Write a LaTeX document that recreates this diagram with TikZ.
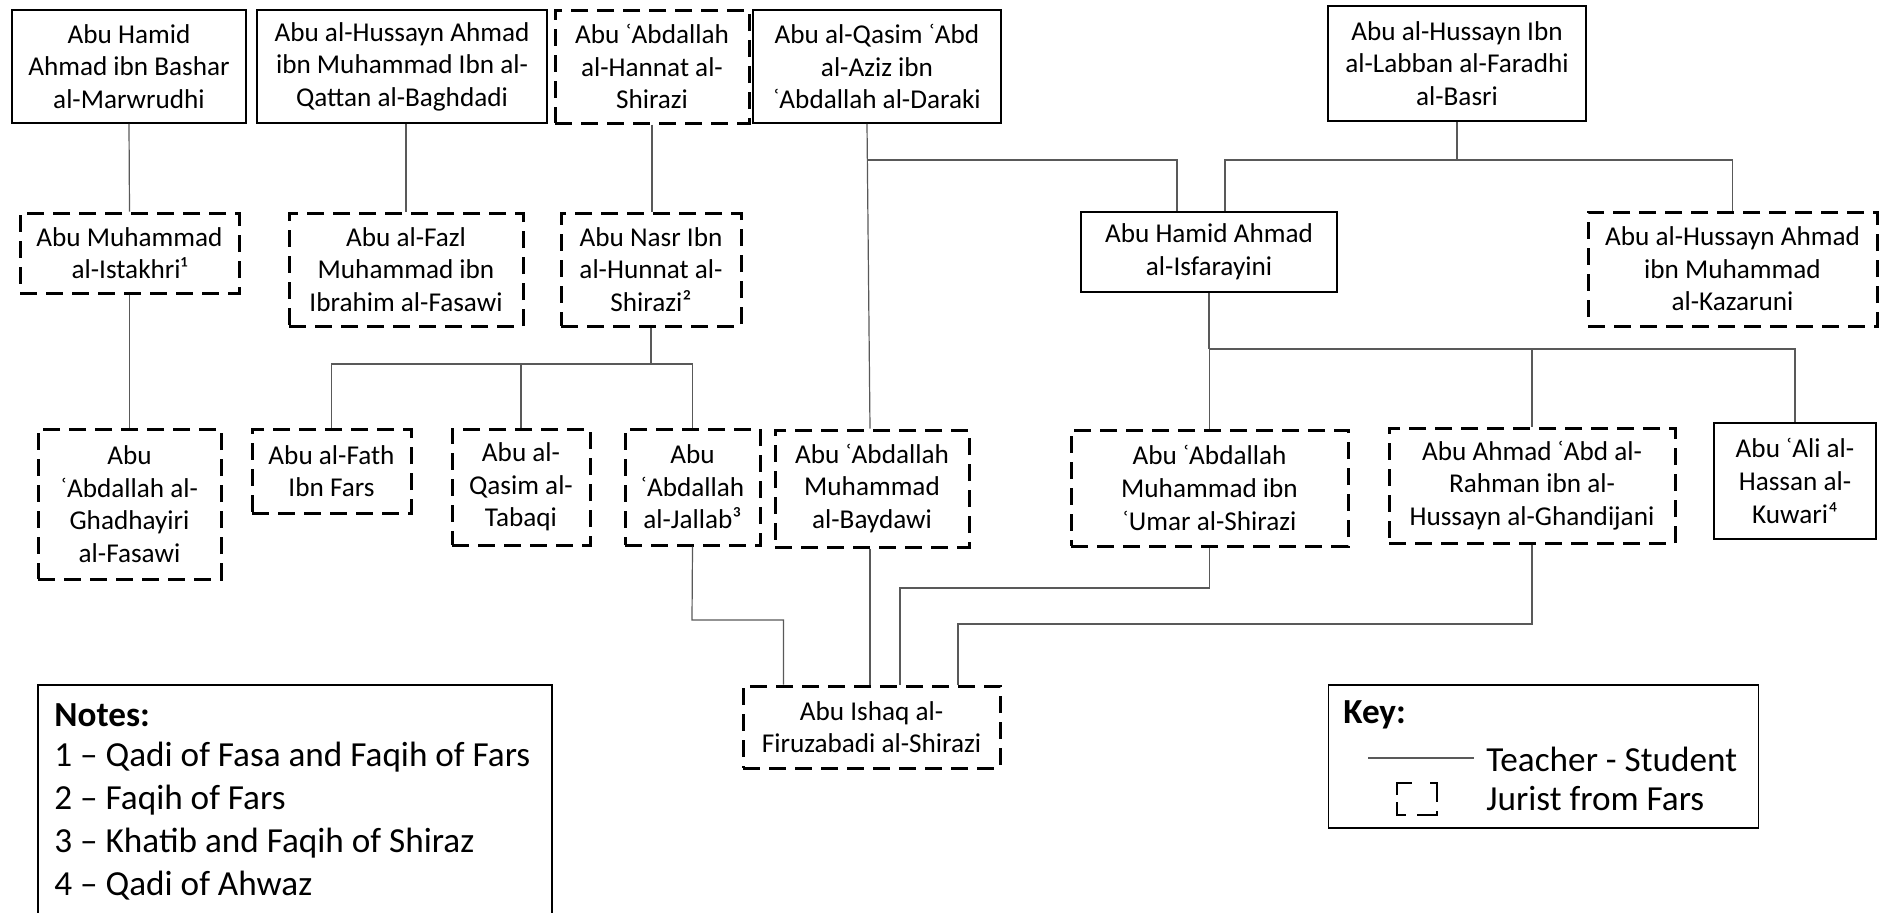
\documentclass[tikz,border=0pt]{standalone}
\usepackage{fontspec}
\setmainfont{Carlito}
\newcommand{\bxfont}{\fontsize{13.6pt}{16.3pt}\selectfont}
\newcommand{\ntfont}{\fontsize{17.6pt}{21.5pt}\selectfont}
\begin{document}
\begin{tikzpicture}[x=0.5pt,y=-0.5pt,
  box/.style={draw=black, line width=0.8pt, align=center, inner sep=0pt, font=\bxfont},
  dbox/.style={box, line width=1.5pt, dash pattern=on 8.5pt off 4.5pt},
  conn/.style={draw=black!65, line width=0.6pt},
  note/.style={anchor=west, inner sep=0pt, font=\ntfont},
]
\useasboundingbox (0,0) rectangle (1885,912);
% row 1
\node[box, minimum width=117pt, minimum height=56.5pt] (A) at (129,66.5) {Abu Hamid\\Ahmad ibn Bashar\\al-Marwrudhi};
\node[box, minimum width=145pt, minimum height=56.5pt] (B) at (402,66.5) {Abu al-Hussayn Ahmad\\ibn Muhammad Ibn al-\\Qattan al-Baghdadi};
\node[dbox, minimum width=97pt, minimum height=56.5pt] (C) at (652,66.5) {Abu ʿAbdallah\\al-Hannat al-\\Shirazi};
\node[box, minimum width=124pt, minimum height=56.5pt] (D) at (877,66.5) {Abu al-Qasim ʿAbd\\al-Aziz ibn\\ʿAbdallah al-Daraki};
\node[box, minimum width=129pt, minimum height=57.5pt] (E) at (1457,63.5) {Abu al-Hussayn Ibn\\al-Labban al-Faradhi\\al-Basri};
% row 2
\node[dbox, minimum width=109.5pt, minimum height=40pt] (F) at (129.5,253) {Abu Muhammad\\al-Istakhri¹};
\node[dbox, minimum width=117pt, minimum height=56.5pt] (G) at (406,269.5) {Abu al-Fazl\\Muhammad ibn\\Ibrahim al-Fasawi};
\node[dbox, minimum width=90pt, minimum height=56.5pt] (H) at (651,269.5) {Abu Nasr Ibn\\al-Hunnat al-\\Shirazi²};
\node[box, minimum width=128pt, minimum height=40pt] (I) at (1209,252) {Abu Hamid Ahmad\\al-Isfarayini};
\node[dbox, minimum width=144.5pt, minimum height=57pt] (J) at (1732.5,269) {Abu al-Hussayn Ahmad\\ibn Muhammad\\al-Kazaruni};
% row 3
\node[dbox, minimum width=91.5pt, minimum height=75pt] (K) at (129.5,504) {Abu\\ʿAbdallah al-\\Ghadhayiri\\al-Fasawi};
\node[dbox, minimum width=79.5pt, minimum height=42pt] (L) at (331.5,471) {Abu al-Fath\\Ibn Fars};
\node[dbox, minimum width=69pt, minimum height=58pt] (M) at (521,487) {Abu al-\\Qasim al-\\Tabaqi};
\node[dbox, minimum width=67.5pt, minimum height=58pt] (N) at (692.5,487) {Abu\\ʿAbdallah\\al-Jallab³};
\node[dbox, minimum width=97pt, minimum height=58.5pt] (O) at (872,488.5) {Abu ʿAbdallah\\Muhammad\\al-Baydawi};
\node[dbox, minimum width=138.5pt, minimum height=58pt] (P) at (1209.5,488) {Abu ʿAbdallah\\Muhammad ibn\\ʿUmar al-Shirazi};
\node[dbox, minimum width=143pt, minimum height=57.5pt] (Q) at (1532,485.5) {Abu Ahmad ʿAbd al-\\Rahman ibn al-\\Hussayn al-Ghandijani};
\node[box, minimum width=81pt, minimum height=58pt] (R) at (1795,481) {Abu ʿAli al-\\Hassan al-\\Kuwari⁴};
% row 4
\node[dbox, minimum width=128.5pt, minimum height=41pt] (S) at (871.5,727) {Abu Ishaq al-\\Firuzabadi al-Shirazi};

% connectors
\coordinate (hb) at (651,364);
\coordinate (db) at (867,160);
\coordinate (ibus) at (1209,349);
\coordinate (nsb) at (692,620);
\coordinate (psb) at (900,588);
\coordinate (qsb) at (958,624);
\draw[conn] (A.south) -- (F.north);
\draw[conn] (G.north |- B.south) -- (G.north);
\draw[conn] (C.south) -- (C.south |- H.north);
\draw[conn] (F.south) -- (K.north);
\draw[conn] (H.south) -- (hb);
\draw[conn] (L.north) |- (hb) -| (N.north);
\draw[conn] (M.north) -- (M.north |- hb);
\draw[conn] ([xshift=-5pt]D.south) -- ([xshift=-1pt]O.north);
\draw[conn] (db) -| ([xshift=-16pt]I.north);
\draw[conn] (E.south) -- (E.south |- db);
\draw[conn] ([xshift=8pt]I.north) |- (J.north |- db) -- (J.north);
\draw[conn] (I.south) -- (ibus);
\draw[conn] (P.north) |- (R.north |- ibus) -- (R.north);
\draw[conn] (Q.north) -- (Q.north |- ibus);
\draw[conn] (N.south) -- (nsb) -| ([xshift=-44pt]S.north);
\draw[conn] ([xshift=-1pt]O.south) -- ([xshift=-1pt]O.south |- S.north);
\draw[conn] (P.south) |- (psb) -- (psb |- S.north);
\draw[conn] (Q.south) |- (qsb) -- (qsb |- S.north);

% notes
\draw[line width=0.8pt] (38,930) |- (552,685) -- (552,930);
\node[note] (n0) at (54,715) {\textbf{Notes:}};
\node[note] (n1) at (54,757) {1 – Qadi of Fasa and Faqih of Fars};
\node[note] (n2) at (54,800) {2 – Faqih of Fars};
\node[note] (n3) at (54,843) {3 – Khatib and Faqih of Shiraz};
\node[note] (n4) at (54,886) {4 – Qadi of Ahwaz};

% key
\node[draw, line width=0.8pt, minimum width=215pt, minimum height=71.5pt, inner sep=0pt] (keybox) at (1543.5,756.5) {};
\node[note] (k0) at (1343,715) {\textbf{Key:}};
\coordinate (ka) at (1368,758);
\coordinate (kb) at (1474,758);
\draw[conn] (ka) -- (kb);
\node[note] (k1) at (1486,759) {Teacher - Student};
\node[note] (k2) at (1486,799) {Jurist from Fars};
\begin{scope}[line width=1.3pt]
\draw (1397,795) -- (1397,783) -- (1412,783);
\draw (1430,783) -- (1437,783) -- (1437,802);
\draw (1397,802) -- (1397,815) -- (1406,815);
\draw (1417,815) -- (1437,815) -- (1437,811);
\end{scope}
\end{tikzpicture}
\end{document}
